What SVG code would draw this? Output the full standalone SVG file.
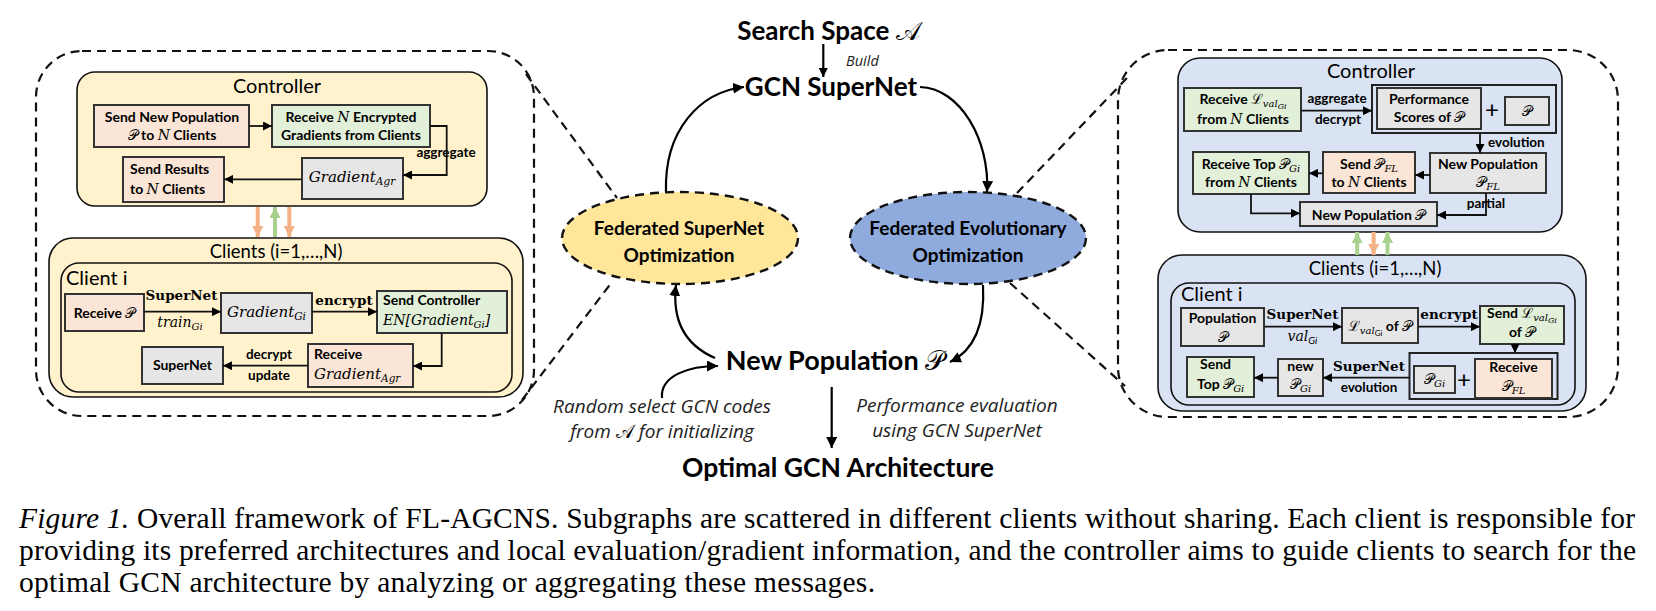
<svg xmlns="http://www.w3.org/2000/svg" width="1656" height="611" viewBox="0 0 1656 611">
<defs>
<style>
.sans{font-family:Lato,"Open Sans","Noto Sans",sans-serif;fill:#000}
.bx{font-family:Lato,"Open Sans",sans-serif;font-weight:bold;font-size:14px;fill:#000}
.lbl{font-family:Lato,"Open Sans",sans-serif;font-weight:bold;font-size:13.5px;fill:#000}
.m{font-family:"DejaVu Serif","Liberation Serif",serif;font-style:italic;fill:#000}
.mb{font-family:"DejaVu Serif","Liberation Serif",serif;font-weight:bold;font-size:13.5px;fill:#000}
.scr{font-family:"DejaVu Serif","Noto Sans","DejaVu Sans",serif;font-style:normal}
.big{font-family:Lato,"Open Sans",sans-serif;font-weight:bold;fill:#000}
.it{font-family:"Open Sans",Lato,sans-serif;font-style:italic;fill:#222}
.cap{font-family:"Liberation Serif","Times New Roman",serif;font-size:29.5px;fill:#000}
.ybg{fill:#FFF2CC;stroke:#111;stroke-width:1.6}
.bbg{fill:#DAE3F3;stroke:#111;stroke-width:1.6}
.pe{fill:#FBE5D6;stroke:#333;stroke-width:2}
.gr{fill:#E2F0D9;stroke:#333;stroke-width:2}
.gy{fill:#E7E6E6;stroke:#333;stroke-width:2}
.grp{fill:none;stroke:#222;stroke-width:2}
.dash{fill:none;stroke:#111;stroke-width:2.2;stroke-dasharray:9 6}
.ell{stroke:#111;stroke-width:2.4;stroke-dasharray:9 6}
.c{fill:none;stroke:#111;stroke-width:1.8}
.cc{fill:none;stroke:#000;stroke-width:2.2}
</style>
<marker id="ah" viewBox="0 0 10 10" refX="10" refY="5" markerWidth="9" markerHeight="9" markerUnits="userSpaceOnUse" orient="auto"><path d="M0,0 L10,5 L0,10 z" fill="#000"/></marker>
<marker id="ahb" viewBox="0 0 10 10" refX="10" refY="5" markerWidth="11" markerHeight="11" markerUnits="userSpaceOnUse" orient="auto"><path d="M0,0 L10,5 L0,10 z" fill="#000"/></marker>
<marker id="aho" viewBox="0 0 10 10" refX="10" refY="5" markerWidth="11" markerHeight="11" markerUnits="userSpaceOnUse" orient="auto"><path d="M0,0 L10,5 L0,10 z" fill="#F4B183"/></marker>
<marker id="ahg" viewBox="0 0 10 10" refX="10" refY="5" markerWidth="11" markerHeight="11" markerUnits="userSpaceOnUse" orient="auto"><path d="M0,0 L10,5 L0,10 z" fill="#A9D18E"/></marker>
</defs>

<!-- panels -->
<g id="left-panel">
<rect class="dash" x="36" y="51" width="498" height="365" rx="46"/>
<rect class="ybg" x="77" y="72" width="410" height="134" rx="18"/>
<text class="sans" x="277" y="93" font-size="20" text-anchor="middle">Controller</text>
<rect class="ybg" x="49" y="238" width="474" height="159" rx="24"/>
<text class="sans" x="276" y="258" font-size="18.5" text-anchor="middle">Clients (i=1,…,N)</text>
<rect class="ybg" x="61" y="263" width="451" height="129" rx="18"/>
<text class="sans" x="66" y="285" font-size="20">Client i</text>
</g>

<g id="right-panel">
<rect class="dash" x="1118" y="50" width="500" height="367" rx="50"/>
<rect class="bbg" x="1178" y="58" width="384" height="174" rx="22"/>
<text class="sans" x="1371" y="78" font-size="20" text-anchor="middle">Controller</text>
<rect class="bbg" x="1158" y="255" width="428" height="156" rx="24"/>
<text class="sans" x="1375" y="275" font-size="18.5" text-anchor="middle">Clients (i=1,…,N)</text>
<rect class="bbg" x="1171" y="283" width="404" height="122" rx="18"/>
<text class="sans" x="1181" y="301" font-size="20">Client i</text>
</g>

<!-- left controller nodes -->
<g id="l-send-pop">
<rect class="pe" x="94" y="105" width="155" height="42"/>
<text class="bx" x="172" y="121.5" text-anchor="middle">Send New Population</text>
<text class="bx" x="172" y="140" text-anchor="middle"><tspan class="m scr" font-weight="normal">𝒫</tspan> to <tspan class="m" font-weight="normal">N</tspan> Clients</text>
</g>
<g id="l-recv-grad">
<rect class="gr" x="272" y="105" width="158" height="42"/>
<text class="bx" x="351" y="121.5" text-anchor="middle">Receive <tspan class="m" font-weight="normal">N</tspan> Encrypted</text>
<text class="bx" x="351" y="140" text-anchor="middle">Gradients from Clients</text>
</g>
<g id="l-grad-agr">
<rect class="gy" x="302" y="158" width="101" height="41"/>
<text class="m" x="352" y="182" font-size="15" text-anchor="middle">Gradient<tspan font-size="10.5" dy="3">Agr</tspan></text>
</g>
<g id="l-send-res">
<rect class="pe" x="123" y="157" width="101" height="45"/>
<text class="bx" x="130" y="173.5">Send Results</text>
<text class="bx" x="130" y="194">to <tspan class="m" font-weight="normal">N</tspan> Clients</text>
</g>

<!-- left client nodes -->
<g id="l-recv-p">
<rect class="pe" x="65" y="294" width="79" height="37"/>
<text class="bx" x="104.5" y="318" text-anchor="middle">Receive <tspan class="m scr" font-weight="normal">𝒫</tspan></text>
</g>
<g id="l-grad-gi">
<rect class="gy" x="221" y="293" width="91" height="40"/>
<text class="m" x="266.5" y="317" font-size="15" text-anchor="middle">Gradient<tspan font-size="10.5" dy="3">Gi</tspan></text>
</g>
<g id="l-send-ctrl">
<rect class="gr" x="377" y="291" width="130" height="42"/>
<text class="bx" x="383" y="305">Send Controller</text>
<text class="m" x="383" y="325" font-size="14">EN[Gradient<tspan font-size="10" dy="3">Gi</tspan><tspan dy="-3">]</tspan></text>
</g>
<g id="l-recv-agr">
<rect class="pe" x="308" y="344" width="105" height="43"/>
<text class="bx" x="314" y="358.5">Receive</text>
<text class="m" x="314" y="378.5" font-size="15">Gradient<tspan font-size="10.5" dy="3">Agr</tspan></text>
</g>
<g id="l-supernet">
<rect class="gy" x="142" y="347" width="81" height="37"/>
<text class="bx" x="182.5" y="370" text-anchor="middle">SuperNet</text>
</g>

<!-- right controller nodes -->
<g id="r-recv-l">
<rect class="gr" x="1184" y="88" width="117" height="43"/>
<text class="bx" x="1243" y="104" text-anchor="middle">Receive <tspan class="m scr" font-weight="normal">ℒ</tspan><tspan class="m" font-weight="normal" font-size="10" dy="3">val</tspan><tspan class="m" font-weight="normal" font-size="8" dy="2">Gi</tspan></text>
<text class="bx" x="1243" y="124" text-anchor="middle">from <tspan class="m" font-weight="normal">N</tspan> Clients</text>
</g>
<g id="r-perf-group">
<rect class="grp" x="1372" y="85" width="184" height="48"/>
<rect class="gy" x="1377" y="88" width="104" height="41"/>
<text class="bx" x="1429" y="104" text-anchor="middle">Performance</text>
<text class="bx" x="1429" y="122" text-anchor="middle">Scores of <tspan class="m scr" font-weight="normal">𝒫</tspan></text>
<text class="sans" x="1492" y="118" font-size="24" text-anchor="middle">+</text>
<rect class="gy" x="1505" y="97" width="44" height="28"/>
<text class="m scr" x="1527" y="115.5" font-size="14" text-anchor="middle">𝒫</text>
</g>
<g id="r-newpop-fl">
<rect class="gy" x="1430" y="153" width="116" height="40"/>
<text class="bx" x="1488" y="168.5" text-anchor="middle">New Population</text>
<text class="m" x="1488" y="187" font-size="14" text-anchor="middle"><tspan class="scr">𝒫</tspan><tspan font-size="10" dy="3">FL</tspan></text>
</g>
<g id="r-send-fl">
<rect class="pe" x="1323" y="152" width="92" height="41"/>
<text class="bx" x="1369" y="168.5" text-anchor="middle">Send <tspan class="m scr" font-weight="normal">𝒫</tspan><tspan class="m" font-weight="normal" font-size="10" dy="3">FL</tspan></text>
<text class="bx" x="1369" y="187" text-anchor="middle">to <tspan class="m" font-weight="normal">N</tspan> Clients</text>
</g>
<g id="r-recv-top">
<rect class="gr" x="1193" y="152" width="116" height="42"/>
<text class="bx" x="1251" y="168.5" text-anchor="middle">Receive Top <tspan class="m scr" font-weight="normal">𝒫</tspan><tspan class="m" font-weight="normal" font-size="10" dy="3">Gi</tspan></text>
<text class="bx" x="1251" y="187" text-anchor="middle">from <tspan class="m" font-weight="normal">N</tspan> Clients</text>
</g>
<g id="r-newpop">
<rect class="gy" x="1300" y="202" width="137" height="24"/>
<text class="bx" x="1368.5" y="219.5" text-anchor="middle">New Population <tspan class="m scr" font-weight="normal">𝒫</tspan></text>
</g>

<!-- right client nodes -->
<g id="r-pop">
<rect class="gy" x="1181" y="308" width="83" height="38"/>
<text class="bx" x="1222.5" y="323" text-anchor="middle">Population</text>
<text class="m scr" x="1222.5" y="342" font-size="14" text-anchor="middle">𝒫</text>
</g>
<g id="r-lval">
<rect class="gy" x="1342" y="308" width="76" height="35"/>
<text class="bx" x="1380" y="331" text-anchor="middle"><tspan class="m scr" font-weight="normal">ℒ</tspan><tspan class="m" font-weight="normal" font-size="10" dy="3">val</tspan><tspan class="sans" font-weight="normal" font-size="8" dy="2">Gi</tspan><tspan dy="-5"> of </tspan><tspan class="m scr" font-weight="normal">𝒫</tspan></text>
</g>
<g id="r-send-l">
<rect class="gr" x="1480" y="306" width="84" height="38"/>
<text class="bx" x="1522" y="317.5" text-anchor="middle">Send <tspan class="m scr" font-weight="normal">ℒ</tspan><tspan class="m" font-weight="normal" font-size="10" dy="3">val</tspan><tspan class="m" font-weight="normal" font-size="8" dy="2">Gi</tspan></text>
<text class="bx" x="1522" y="337" text-anchor="middle">of <tspan class="m scr" font-weight="normal">𝒫</tspan></text>
</g>
<g id="r-recv-group">
<rect class="grp" x="1409.5" y="353" width="148" height="46"/>
<rect class="gy" x="1414" y="366" width="41" height="27"/>
<text class="m" x="1434.5" y="384" font-size="14" text-anchor="middle"><tspan class="scr">𝒫</tspan><tspan font-size="10" dy="3">Gi</tspan></text>
<text class="sans" x="1464" y="388" font-size="24" text-anchor="middle">+</text>
<rect class="pe" x="1475" y="359" width="77" height="39"/>
<text class="bx" x="1513.5" y="372" text-anchor="middle">Receive</text>
<text class="m" x="1513.5" y="391" font-size="14" text-anchor="middle"><tspan class="scr">𝒫</tspan><tspan font-size="10" dy="3">FL</tspan></text>
</g>
<g id="r-new-pgi">
<rect class="gy" x="1278" y="359" width="45" height="37"/>
<text class="bx" x="1300.5" y="370.5" text-anchor="middle">new</text>
<text class="m" x="1300.5" y="389" font-size="14" text-anchor="middle"><tspan class="scr">𝒫</tspan><tspan font-size="10" dy="3">Gi</tspan></text>
</g>
<g id="r-send-top">
<rect class="gr" x="1187" y="357" width="67" height="40"/>
<text class="bx" x="1200" y="369">Send</text>
<text class="bx" x="1197" y="389">Top <tspan class="m scr" font-weight="normal">𝒫</tspan><tspan class="m" font-weight="normal" font-size="10" dy="3">Gi</tspan></text>
</g>

<!-- center nodes -->
<g id="search-space">
<text class="big" x="829" y="40" font-size="26" text-anchor="middle">Search Space <tspan class="m scr" font-weight="normal">𝒜</tspan></text>
</g>
<g id="gcn-supernet">
<text class="big" x="831" y="96" font-size="26" text-anchor="middle">GCN SuperNet</text>
</g>
<g id="fed-supernet">
<ellipse class="ell" cx="680" cy="238" rx="118" ry="46" fill="#FFE699"/>
<text class="big" x="679" y="235" font-size="19" text-anchor="middle">Federated SuperNet</text>
<text class="big" x="679" y="261.5" font-size="19" text-anchor="middle">Optimization</text>
</g>
<g id="fed-evo">
<ellipse class="ell" cx="968" cy="238" rx="118" ry="46" fill="#8FAADC"/>
<text class="big" x="968" y="235" font-size="19" text-anchor="middle">Federated Evolutionary</text>
<text class="big" x="968" y="261.5" font-size="19" text-anchor="middle">Optimization</text>
</g>
<g id="new-pop">
<text class="big" x="835" y="370" font-size="27" text-anchor="middle">New Population <tspan class="m scr" font-weight="normal">𝒫</tspan></text>
</g>
<g id="optimal">
<text class="big" x="838" y="477" font-size="26.5" text-anchor="middle">Optimal GCN Architecture</text>
</g>

<!-- connectors -->
<g id="connectors">
<!-- left controller -->
<path class="c" d="M249,126 H272" marker-end="url(#ah)"/>
<path class="c" d="M430,126 H446.7 V175 H403" marker-end="url(#ah)"/>
<path class="c" d="M302,179.3 H224.3" marker-end="url(#ah)"/>
<text class="lbl" x="446" y="157" text-anchor="middle">aggregate</text>
<!-- left vertical colored -->
<path d="M257.7,207 V237" stroke="#F4B183" stroke-width="4" fill="none" marker-end="url(#aho)"/>
<path d="M289.3,207 V237" stroke="#F4B183" stroke-width="4" fill="none" marker-end="url(#aho)"/>
<path d="M275,237 V207" stroke="#A9D18E" stroke-width="4" fill="none" marker-end="url(#ahg)"/>
<!-- left client -->
<path class="c" d="M144,311.7 H221" marker-end="url(#ah)"/>
<text class="mb" x="181.5" y="300" text-anchor="middle">SuperNet</text>
<text class="m" x="180" y="327" font-size="14" text-anchor="middle">train<tspan font-size="10" dy="3">Gi</tspan></text>
<path class="c" d="M312,311.7 H377" marker-end="url(#ah)"/>
<text class="mb" x="344" y="305" text-anchor="middle">encrypt</text>
<path class="c" d="M441.7,333 V366 H413" marker-end="url(#ah)"/>
<path class="c" d="M308,365.7 H223" marker-end="url(#ah)"/>
<text class="lbl" x="269" y="358.5" text-anchor="middle">decrypt</text>
<text class="lbl" x="269" y="380" text-anchor="middle">update</text>

<!-- right controller -->
<path class="c" d="M1301,110.7 H1372" marker-end="url(#ah)"/>
<text class="lbl" x="1337" y="103" text-anchor="middle">aggregate</text>
<text class="lbl" x="1338" y="123.5" text-anchor="middle">decrypt</text>
<path class="c" d="M1480,133 V153" marker-end="url(#ah)"/>
<text class="lbl" x="1488" y="146.5">evolution</text>
<path class="c" d="M1430,175 H1415" marker-end="url(#ah)"/>
<path class="c" d="M1323,173.3 H1309" marker-end="url(#ah)"/>
<path class="c" d="M1251,194 V213.3 H1300" marker-end="url(#ah)"/>
<path class="c" d="M1486,193 V215 H1437" marker-end="url(#ah)"/>
<text class="lbl" x="1486" y="208" text-anchor="middle">partial</text>
<!-- right vertical colored -->
<path d="M1357.2,255 V232" stroke="#A9D18E" stroke-width="4" fill="none" marker-end="url(#ahg)"/>
<path d="M1373.6,232 V255" stroke="#F4B183" stroke-width="4" fill="none" marker-end="url(#aho)"/>
<path d="M1387.5,255 V232" stroke="#A9D18E" stroke-width="4" fill="none" marker-end="url(#ahg)"/>
<!-- right client -->
<path class="c" d="M1264,326.7 H1342" marker-end="url(#ah)"/>
<text class="mb" x="1302.5" y="319" text-anchor="middle">SuperNet</text>
<text class="m" x="1302.5" y="341" font-size="14" text-anchor="middle">val<tspan class="sans" font-size="10" dy="3">Gi</tspan></text>
<path class="c" d="M1418,326.7 H1480" marker-end="url(#ah)"/>
<text class="mb" x="1449" y="318.5" text-anchor="middle">encrypt</text>
<path class="c" d="M1515,344 V353" marker-end="url(#ah)"/>
<path class="c" d="M1409.5,377.7 H1323" marker-end="url(#ah)"/>
<text class="mb" x="1369" y="370.5" text-anchor="middle">SuperNet</text>
<text class="lbl" x="1369" y="391.5" text-anchor="middle">evolution</text>
<path class="c" d="M1278,377.7 H1254" marker-end="url(#ah)"/>

<!-- center -->
<path class="cc" d="M823.3,44 V77" stroke-width="1.8" marker-end="url(#ah)"/>
<text class="it" x="846" y="66" font-size="14.5">Build</text>
<path class="cc" d="M666,192 C664,130 700,92 744,87" marker-end="url(#ahb)"/>
<path class="cc" d="M920,87 C960,88 990,140 987,192" marker-end="url(#ahb)"/>
<path class="cc" d="M715,358 C685,345 672,320 676,285" marker-end="url(#ahb)"/>
<path class="cc" d="M983,285 C985,322 975,350 950,362" marker-end="url(#ahb)"/>
<path class="cc" d="M662,398 C660,375 690,366 718,366" marker-end="url(#ahb)"/>
<path class="cc" d="M831.7,387 V448" stroke-width="1.8" marker-end="url(#ahb)"/>
<text class="it" x="662" y="413" font-size="19" text-anchor="middle">Random select GCN codes</text>
<text class="it" x="662" y="438" font-size="19" text-anchor="middle">from <tspan class="m scr" font-style="normal">𝒜</tspan> for initializing</text>
<text class="it" x="957" y="411.5" font-size="19" text-anchor="middle">Performance evaluation</text>
<text class="it" x="957" y="436.5" font-size="19" text-anchor="middle">using GCN SuperNet</text>

<!-- zoom dashed lines -->
<path class="dash" d="M526,74 L617,198"/>
<path class="dash" d="M522,400 L612,282"/>
<path class="dash" d="M1017,193 L1127,78"/>
<path class="dash" d="M1010,283 L1125,386"/>
</g>

<!-- caption -->
<g id="caption">
<text class="cap" x="19" y="528" textLength="1616" lengthAdjust="spacing"><tspan font-style="italic">Figure 1.</tspan> Overall framework of FL-AGCNS. Subgraphs are scattered in different clients without sharing. Each client is responsible for</text>
<text class="cap" x="19" y="560" textLength="1617" lengthAdjust="spacing">providing its preferred architectures and local evaluation/gradient information, and the controller aims to guide clients to search for the</text>
<text class="cap" x="19" y="592" textLength="856" lengthAdjust="spacing">optimal GCN architecture by analyzing or aggregating these messages.</text>
</g>
</svg>
